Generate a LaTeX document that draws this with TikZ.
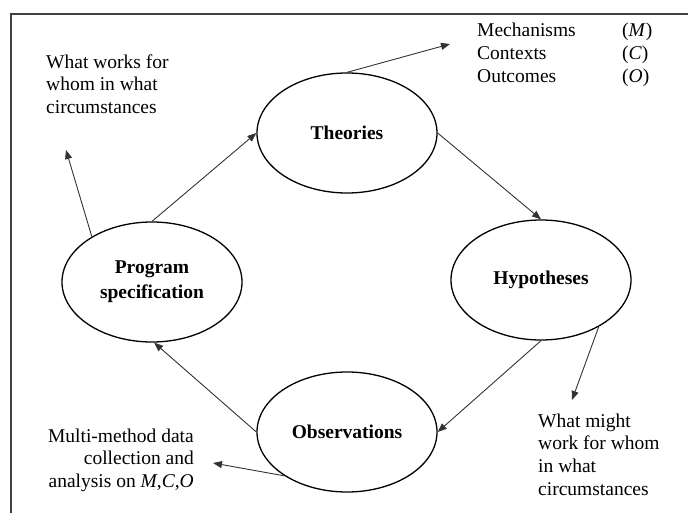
\documentclass[tikz,border=0pt]{standalone}
\usepackage{fontspec}
\setmainfont{Liberation Serif}
\usetikzlibrary{arrows.meta,shapes.geometric}
\begin{document}
\begin{tikzpicture}[x=1pt,y=-1pt,
  stage/.style={draw=black, line width=1.3pt, ellipse, minimum width=180pt,
    minimum height=120pt, inner sep=0pt,
    font=\fontsize{19.5}{25}\selectfont\bfseries},
  flow/.style={draw=black!80, line width=0.9pt,
    -{Triangle[length=9pt,width=7pt]}},
  note/.style={inner sep=0pt, font=\fontsize{19.5}{22.7}\selectfont},
]
\useasboundingbox (0,0) rectangle (688,513);
% open frame
\draw[line width=1.2pt, black!75] (11,513) -- (11,14) -- (688,14);

% the four stages of the cycle
\node[stage] (theo) at (347,133) {Theories};
\node[stage] (hyp)  at (541,280) {Hypotheses};
\node[stage] (obs)  at (347,432) {Observations};
\node[stage, align=center] (prog) at (152,282) {Program\\specification};

% side notes
\node[note, anchor=north west] (mco) at (477,20.9)
  {\begin{tabular}{@{}p{145pt}@{}l@{}}
   Mechanisms & (\textit{M})\\
   Contexts   & (\textit{C})\\
   Outcomes   & (\textit{O})
   \end{tabular}};
\node[note, anchor=north west] (works) at (46,52.1)
  {\begin{tabular}{@{}l@{}}What works for\\whom in what\\circumstances\end{tabular}};
\node[note, anchor=north west] (might) at (538,411.1)
  {\begin{tabular}{@{}l@{}}What might\\work for whom\\in what\\circumstances\end{tabular}};
\node[note, anchor=north east] (multi) at (194,426.1)
  {\begin{tabular}{@{}r@{}}Multi-method data\\collection and\\analysis on \textit{M},\textit{C},\textit{O}\end{tabular}};

% free ends of the outward arrows
\coordinate (mcoTip)   at (450,44);
\coordinate (worksTip) at (66,150);
\coordinate (mightTip) at (572,400);
\coordinate (multiTip) at (213,463);

% cycle
\draw[flow] (theo.east)  -- (hyp.north);
\draw[flow] (hyp.south)  -- (obs.east);
\draw[flow] (obs.west)   -- (prog.-88);
\draw[flow] (prog.north) -- (theo.west);

% outward arrows
\draw[flow] (theo.north) -- (mcoTip);
\draw[flow] (prog.143)   -- (worksTip);
\draw[flow] (hyp.-39)    -- (mightTip);
\draw[flow] (obs.215)    -- (multiTip);
\end{tikzpicture}
\end{document}
